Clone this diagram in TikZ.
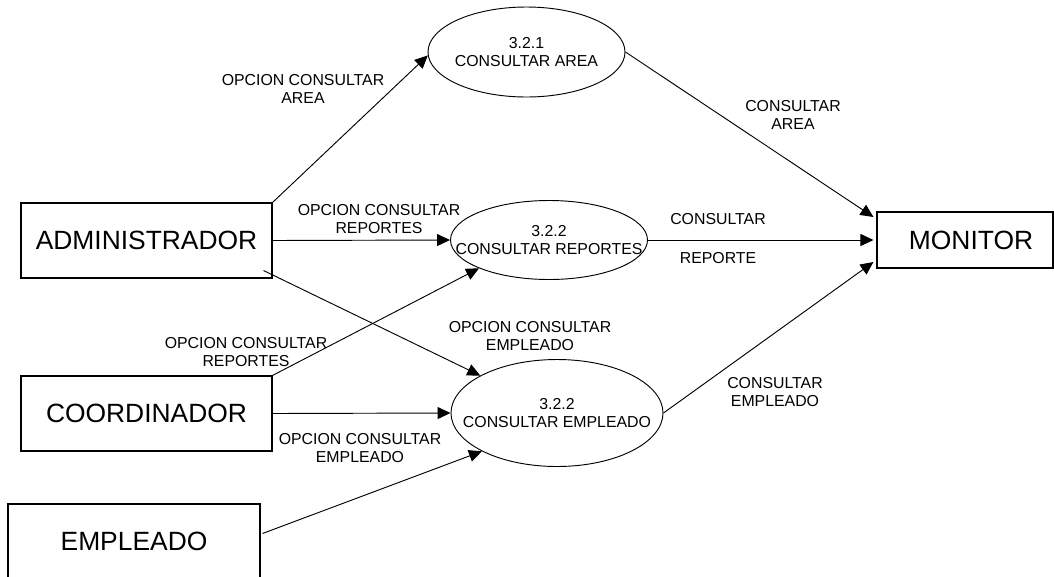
\documentclass[tikz,border=0pt]{standalone}
\usepackage{fontspec}
\setmainfont{Liberation Sans}
\usetikzlibrary{shapes.geometric,arrows.meta,calc}
\begin{document}
\begin{tikzpicture}[x=0.75pt,y=-0.75pt,
  entity/.style={draw, line width=0.8pt, rectangle, inner sep=0pt,
    minimum width=188.25pt, minimum height=56.25pt,
    font=\fontsize{19.8pt}{24pt}\selectfont},
  proc/.style={draw, ellipse, line width=0.7pt, inner sep=0pt},
  ptext/.style={align=center, inner sep=0pt,
    font=\fontsize{11.9pt}{13.5pt}\selectfont},
  flow/.style={line width=0.7pt, -{Triangle[length=9.75pt,width=9pt]}}
]
\useasboundingbox (0,0) rectangle (1054,576);

% external entities
\node[entity] (admin) at (146.5,240.5) {ADMINISTRADOR};
\node[entity] (coord) at (146.5,413.5) {COORDINADOR};
\node[entity, minimum width=189pt] (emp) at (134,541.5) {EMPLEADO};
\node[entity, minimum width=132pt, minimum height=42pt] (mon) at (965,240) {\hspace{9pt}MONITOR};

% processes
\node[proc, minimum width=147.75pt, minimum height=67.5pt] (e1) at (526.5,52) {};
\node[ptext] (e1t) at (e1) {3.2.1\\CONSULTAR AREA};
\node[proc, minimum width=147.75pt, minimum height=59.25pt] (e2) at (549,240) {};
\node[ptext] (e2t) at (e2) {3.2.2\\CONSULTAR REPORTES};
\node[proc, minimum width=159pt, minimum height=80.25pt] (e3) at (557,413) {};
\node[ptext] (e3t) at (e3) {3.2.2\\CONSULTAR EMPLEADO};

% data flows
\draw[flow] (admin.north east) -- (e1.182);
\draw[flow] (admin.east) -- (e2.west);
\draw[flow] ($(admin.south east)+(-9,-8)$) -- (e3.154);
\draw[flow] (coord.north east) -- (e2.202);
\draw[flow] (coord.east) -- (e3.west);
\draw[flow] ($(emp.east)+(2,-8)$) -- (e3.207);
\draw[flow] (e1.east) -- ($(mon.west)+(-3,-23)$);
\draw[flow] (e2.east) -- ($(mon.west)+(-3,0)$);
\draw[flow] (e3.east) -- ($(mon.west)+(-3,22)$);

% flow labels
\node[ptext] (l1) at (303,89) {OPCION CONSULTAR\\AREA};
\node[ptext] (l2) at (379,219) {OPCION CONSULTAR\\REPORTES};
\node[ptext] (l3) at (246,352.5) {OPCION CONSULTAR\\REPORTES};
\node[ptext] (l4) at (530,336) {OPCION CONSULTAR\\EMPLEADO};
\node[ptext] (l5) at (360,448.5) {OPCION CONSULTAR\\EMPLEADO};
\node[ptext] (l6) at (793,115) {CONSULTAR\\AREA};
\node[ptext] (l7) at (718,219) {CONSULTAR};
\node[ptext] (l8) at (718,258) {REPORTE};
\node[ptext] (l9) at (775,392) {CONSULTAR\\EMPLEADO};
\end{tikzpicture}
\end{document}
